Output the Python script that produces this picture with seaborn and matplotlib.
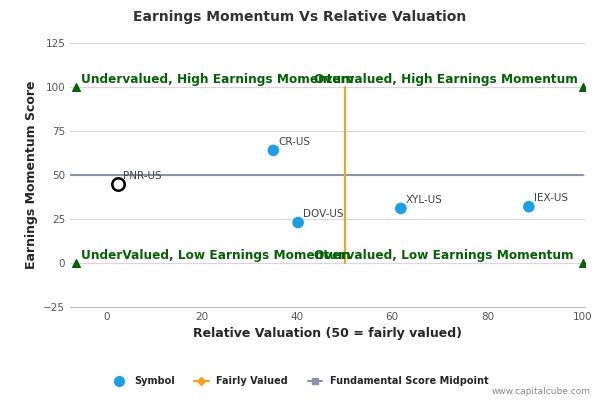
import matplotlib
matplotlib.use("Agg")
import matplotlib.pyplot as plt
import seaborn as sns
import pandas as pd
from matplotlib.lines import Line2D

symbols = ["CR-US", "DOV-US", "XYL-US", "IEX-US"]
rel_val = [35.0, 40.2, 61.8, 88.7]
momentum = [64, 23, 31, 32]
hl_symbol = "PNR-US"
hl_val, hl_mom = 2.3, 45
tri_x = [-6.5, 100, -6.5, 100]
tri_y = [100, 100, 0, 0]
quad_labels = ["Undervalued, High Earnings Momentum", "Overvalued, High Earnings Momentum",
               "UnderValued, Low Earnings Momentum", "Overvalued, Low Earnings Momentum"]
quad_pos = [(-5.5, 100), (43.5, 100), (-5.5, 0), (43.5, 0)]

df = pd.DataFrame({"sym": symbols, "x": rel_val, "y": momentum})
sns.set_style("white")
fig = plt.figure(figsize=(6, 4), dpi=100)
ax = fig.add_axes([0.117, 0.2325, 0.858, 0.66])
for v in [-25, 0, 25, 50, 75, 100, 125]:
    ax.axhline(v, color="#d8d8d8", lw=0.8, zorder=0)
ax.plot([-7.7, 100], [50, 50], color="#8c93a8", lw=1.5, zorder=1)
ax.plot([50, 50], [0, 100], color="#f7a21b", lw=1.5, zorder=1)
sns.scatterplot(data=df, x="x", y="y", ax=ax, color="#1aa0e6", s=70, edgecolor="none", zorder=3, legend=False)
ax.scatter([hl_val], [hl_mom], s=80, facecolor="white", edgecolor="black", lw=1.8, zorder=4)
for s, x, y in zip(symbols + [hl_symbol], rel_val + [hl_val], momentum + [hl_mom]):
    ax.text(x + 1, y + 3, s, fontsize=7.5, color="#444444", zorder=5)
ax.scatter(tri_x, tri_y, marker="^", color="#006400", s=30, zorder=3)
for t, (x, y) in zip(quad_labels, quad_pos):
    ax.text(x, y + 2, t, color="#006400", fontsize=8.7, fontweight="bold", zorder=5)
ax.set_xlim(-7.7, 100.5)
ax.set_ylim(-25, 125)
ax.set_xticks([0, 20, 40, 60, 80, 100])
ax.set_yticks([-25, 0, 25, 50, 75, 100, 125])
ax.tick_params(labelsize=7.5, colors="#555555", length=0)
for sp in ax.spines.values():
    sp.set_visible(False)
ax.spines["bottom"].set_visible(True)
ax.spines["bottom"].set_color("#c0c0c0")
ax.set_xlabel("Relative Valuation (50 = fairly valued)", fontsize=9, fontweight="bold")
ax.set_ylabel("Earnings Momentum Score", fontsize=9, fontweight="bold")
fig.suptitle("Earnings Momentum Vs Relative Valuation", fontsize=10, fontweight="bold", color="#333333", y=0.975)
handles = [Line2D([], [], marker="o", ls="none", color="#1aa0e6", markersize=7),
           Line2D([], [], marker="D", color="#f7a21b", markersize=4),
           Line2D([], [], marker="s", color="#8c93a8", markersize=5)]
fig.legend(handles, ["Symbol", "Fairly Valued", "Fundamental Score Midpoint"], loc="center",
           bbox_to_anchor=(0.5, 0.047), ncol=3, frameon=False, prop={"size": 7, "weight": "bold"},
           handlelength=1.5, columnspacing=2)
fig.text(0.985, 0.015, "www.capitalcube.com", ha="right", fontsize=6.5, color="#888888")
fig.savefig("out.png", dpi=100)
